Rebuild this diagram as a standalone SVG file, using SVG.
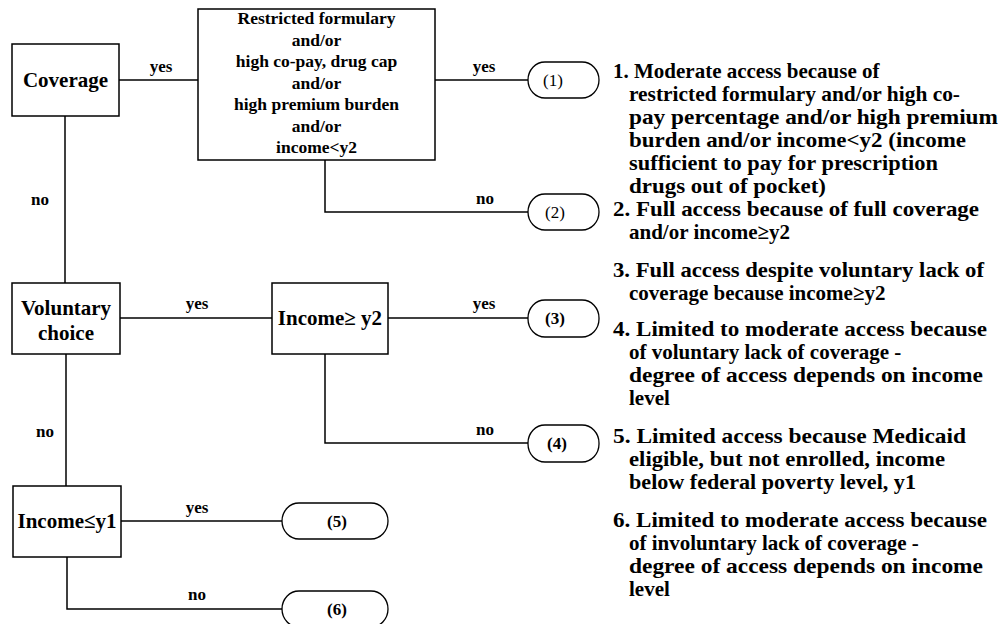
<svg xmlns="http://www.w3.org/2000/svg" width="1001" height="624" viewBox="0 0 1001 624">
<style>
.box{fill:#fff;stroke:#000;stroke-width:1.5}
.pill{fill:#fff;stroke:#000;stroke-width:1.3}
.ln{fill:none;stroke:#000;stroke-width:1.5}
text{font-family:"Liberation Serif","Times New Roman",serif;fill:#000}
.b{font-weight:bold}
.nt{font-size:21px;font-weight:bold;text-anchor:middle}
.rt{font-size:17.5px;font-weight:bold;text-anchor:middle}
.lbl{font-size:17px;font-weight:bold;text-anchor:middle}
.pt{font-size:17px;text-anchor:middle}
.lg{font-size:21px;font-weight:bold}
</style>
<rect width="1001" height="624" fill="#fff"/>
<g id="connectors">
<line class="ln" x1="119" y1="80" x2="198" y2="80"/>
<line class="ln" x1="435" y1="80" x2="528" y2="80"/>
<polyline class="ln" points="325,160 325,212 528,212"/>
<line class="ln" x1="65" y1="116" x2="65" y2="283"/>
<line class="ln" x1="120" y1="318" x2="272" y2="318"/>
<line class="ln" x1="388" y1="318" x2="528" y2="318"/>
<polyline class="ln" points="325,354 325,443 528,443"/>
<line class="ln" x1="66" y1="354" x2="66" y2="486"/>
<line class="ln" x1="121" y1="521" x2="282" y2="521"/>
<polyline class="ln" points="67,557 67,609 282,609"/>
<text class="lbl" x="161" y="72">yes</text>
<text class="lbl" x="484" y="72">yes</text>
<text class="lbl" x="485" y="204">no</text>
<text class="lbl" x="40" y="205">no</text>
<text class="lbl" x="197" y="309">yes</text>
<text class="lbl" x="484" y="309">yes</text>
<text class="lbl" x="485" y="435">no</text>
<text class="lbl" x="45" y="437">no</text>
<text class="lbl" x="197" y="513">yes</text>
<text class="lbl" x="197" y="600">no</text>
</g>
<g id="coverage">
<rect class="box" x="12" y="44" width="107" height="72"/>
<text class="nt" x="65.5" y="87">Coverage</text>
</g>
<g id="restricted">
<rect class="box" x="198" y="9" width="237" height="151"/>
<text class="rt" x="316.5" y="24">Restricted formulary</text>
<text class="rt" x="316.5" y="46">and/or</text>
<text class="rt" x="316.5" y="67">high co-pay, drug cap</text>
<text class="rt" x="316.5" y="89">and/or</text>
<text class="rt" x="316.5" y="110">high premium burden</text>
<text class="rt" x="316.5" y="132">and/or</text>
<text class="rt" x="316.5" y="153">income&lt;y2</text>
</g>
<g id="voluntary">
<rect class="box" x="12" y="283" width="108" height="71"/>
<text class="nt" x="66" y="315">Voluntary</text>
<text class="nt" x="66" y="340">choice</text>
</g>
<g id="income-y2">
<rect class="box" x="272" y="283" width="116" height="71"/>
<text class="nt" x="330" y="325">Income≥ y2</text>
</g>
<g id="income-y1">
<rect class="box" x="13" y="486" width="108" height="71"/>
<text class="nt" x="67" y="528">Income≤y1</text>
</g>
<g id="o1">
<rect class="pill" x="528" y="62" width="71" height="36" rx="17" ry="18"/>
<text class="pt" x="553" y="86">(1)</text>
</g>
<g id="o2">
<rect class="pill" x="528" y="194" width="71" height="36" rx="17" ry="18"/>
<text class="pt" x="555" y="218">(2)</text>
</g>
<g id="o3">
<rect class="pill" x="528" y="300" width="71" height="37" rx="17" ry="18"/>
<text class="pt b" x="555" y="324">(3)</text>
</g>
<g id="o4">
<rect class="pill" x="528" y="425" width="71" height="37" rx="17" ry="18"/>
<text class="pt b" x="557" y="449">(4)</text>
</g>
<g id="o5">
<rect class="pill" x="282" y="503" width="106" height="36" rx="17" ry="18"/>
<text class="pt b" x="337" y="527">(5)</text>
</g>
<g id="o6">
<rect class="pill" x="282" y="591" width="106" height="36" rx="17" ry="18"/>
<text class="pt b" x="337" y="615">(6)</text>
</g>
<g id="legend">
<text class="lg" x="613" y="78">1. Moderate access because of</text>
<text class="lg" x="629" y="101" textLength="331" lengthAdjust="spacingAndGlyphs">restricted formulary and/or high co-</text>
<text class="lg" x="629" y="124" textLength="369" lengthAdjust="spacingAndGlyphs">pay percentage and/or high premium</text>
<text class="lg" x="629" y="147" textLength="337" lengthAdjust="spacingAndGlyphs">burden and/or income&lt;y2 (income</text>
<text class="lg" x="629" y="170" textLength="309" lengthAdjust="spacingAndGlyphs">sufficient to pay for prescription</text>
<text class="lg" x="629" y="193" textLength="197" lengthAdjust="spacingAndGlyphs">drugs out of pocket)</text>
<text class="lg" x="613" y="216" textLength="366" lengthAdjust="spacingAndGlyphs">2. Full access because of full coverage</text>
<text class="lg" x="629" y="239">and/or income≥y2</text>
<text class="lg" x="613" y="277" textLength="371" lengthAdjust="spacingAndGlyphs">3. Full access despite voluntary lack of</text>
<text class="lg" x="629" y="300">coverage because income≥y2</text>
<text class="lg" x="613" y="336" textLength="374" lengthAdjust="spacingAndGlyphs">4. Limited to moderate access because</text>
<text class="lg" x="629" y="359">of voluntary lack of coverage -</text>
<text class="lg" x="629" y="382" textLength="354" lengthAdjust="spacingAndGlyphs">degree of access depends on income</text>
<text class="lg" x="629" y="405">level</text>
<text class="lg" x="613" y="443" textLength="353" lengthAdjust="spacingAndGlyphs">5. Limited access because Medicaid</text>
<text class="lg" x="629" y="466" textLength="316" lengthAdjust="spacingAndGlyphs">eligible, but not enrolled, income</text>
<text class="lg" x="629" y="489" textLength="287" lengthAdjust="spacingAndGlyphs">below federal poverty level, y1</text>
<text class="lg" x="613" y="527" textLength="374" lengthAdjust="spacingAndGlyphs">6. Limited to moderate access because</text>
<text class="lg" x="629" y="550">of involuntary lack of coverage -</text>
<text class="lg" x="629" y="573" textLength="354" lengthAdjust="spacingAndGlyphs">degree of access depends on income</text>
<text class="lg" x="629" y="596">level</text>
</g>
</svg>
